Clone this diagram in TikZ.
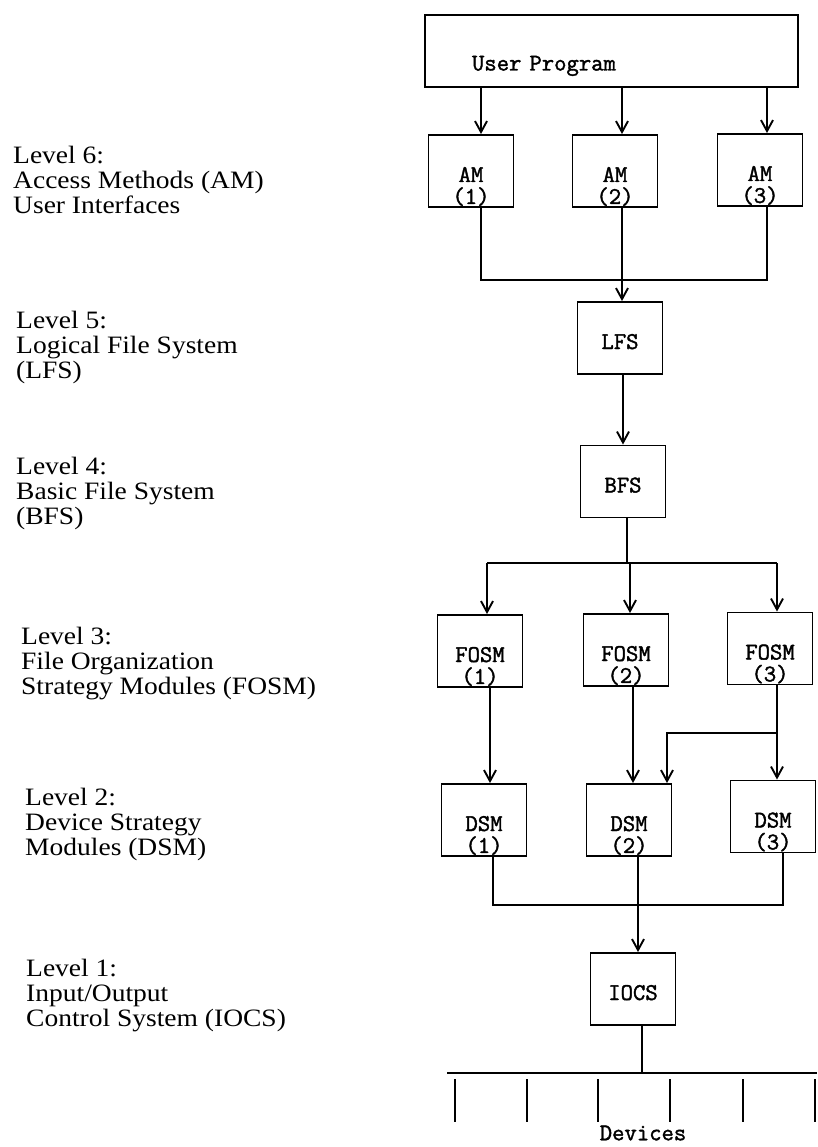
\documentclass[tikz,border=0pt]{standalone}
\usepackage{fontspec}
\newfontfamily\lvlfont{Liberation Serif}[FakeStretch=1.1]
\newfontfamily\boxfont{Latin Modern Mono}[FakeBold=1.6]
\usetikzlibrary{arrows.meta, positioning}

\begin{document}
\begin{tikzpicture}[
    x=1pt, y=-1pt,
    box/.style   = {rectangle, draw=black, line width=1.9pt, inner xsep=0pt, inner ysep=0pt,
                    minimum width=85pt, text height=47pt, text depth=25pt,
                    font=\boxfont\fontsize{24}{25}\selectfont},
    tag/.style   = {inner sep=0pt, font=\boxfont\fontsize{24}{25}\selectfont},
    num/.style   = {tag, anchor=base},
    level/.style = {anchor=north west, align=left, inner sep=0pt,
                    font=\lvlfont\fontsize{25}{25}\selectfont},
    line/.style  = {line width=1.9pt},
    arr/.style   = {line, -{Straight Barb[length=11pt,width=12pt]}},
]
\useasboundingbox (0,0) rectangle (817,1147);

% ---- level labels on the left ----
\node[level] (lv6) at (13,146)  {Level 6:\\Access Methods (AM)\\User Interfaces};
\node[level] (lv5) at (16,311)  {Level 5:\\Logical File System\\(LFS)};
\node[level] (lv4) at (16,457)  {Level 4:\\Basic File System\\(BFS)};
\node[level] (lv3) at (21,627)  {Level 3:\\File Organization\\Strategy Modules (FOSM)};
\node[level] (lv2) at (25,788)  {Level 2:\\Device Strategy\\Modules (DSM)};
\node[level] (lv1) at (26,959)  {Level 1:\\Input/Output\\Control System (IOCS)};

% ---- user program ----
\node[box, minimum width=373pt, text width=279pt, inner xsep=47pt, align=left,
      text height=55.5pt, text depth=16.5pt] (user) at (611.5,51) {User Program};

% ---- module boxes ----
\node[box] (am1)   at (471,171)   {AM};
\node[box] (am2)   at (615,171)   {AM};
\node[box] (am3)   at (760,170)   {AM};
\node[box] (lfs)   at (620,338)   {LFS};
\node[box] (bfs)   at (623,481.5) {BFS};
\node[box] (fosm1) at (480,651)   {FOSM};
\node[box] (fosm2) at (626,650)   {FOSM};
\node[box] (fosm3) at (770,648.5) {FOSM};
\node[box] (dsm1)  at (484,820)   {DSM};
\node[box] (dsm2)  at (629,820)   {DSM};
\node[box] (dsm3)  at (773,816.5) {DSM};
\node[box] (iocs)  at (633,989)   {IOCS};

% numbers sit on the bottom line
\node[num] (am1n)   at ([yshift=4pt]am1.south)   {(1)};
\node[num] (am2n)   at ([yshift=4pt]am2.south)   {(2)};
\node[num] (am3n)   at ([yshift=4pt]am3.south)   {(3)};
\node[num] (fosm1n) at ([yshift=4pt]fosm1.south) {(1)};
\node[num] (fosm2n) at ([yshift=4pt]fosm2.south) {(2)};
\node[num] (fosm3n) at ([yshift=4pt]fosm3.south) {(3)};
\node[num] (dsm1n)  at ([yshift=4pt]dsm1.south)  {(1)};
\node[num] (dsm2n)  at ([yshift=4pt]dsm2.south)  {(2)};
\node[num] (dsm3n)  at ([yshift=4pt]dsm3.south)  {(3)};

% ---- junction points ----
\coordinate (j6)   at (622,280);
\coordinate (j4)   at (627,563);
\coordinate (j3)   at (777,733);
\coordinate (j2)   at (638,905);
\coordinate (j1)   at (642,1073);
\coordinate (busl) at (447,1073);
\coordinate (busr) at (817,1073);

% ---- user program -> access methods -> LFS ----
\foreach \n/\s in {am1/10, am2/7, am3/7}
  \draw[arr] ([xshift=\s pt]\n.north |- user.south) -- ([xshift=\s pt]\n.north);
\draw[line] ([xshift=10pt]am1.south) |- (j6) -| ([xshift=7pt]am3.south);
\draw[line] (am2.south -| j6) -- (j6);
\draw[arr]  (j6) -- (lfs.north -| j6);

% ---- LFS -> BFS -> FOSM ----
\draw[arr]  (lfs.south -| bfs) -- (bfs.north);
\draw[line] (bfs.south -| j4) -- (j4);
\draw[line] ([xshift=7pt]fosm1.north |- j4) -- ([xshift=7pt]fosm3.north |- j4);
\foreach \n/\s in {fosm1/7, fosm2/4, fosm3/7}
  \draw[arr] ([xshift=\s pt]\n.north |- j4) -- ([xshift=\s pt]\n.north);

% ---- FOSM -> DSM ----
\draw[arr]  ([xshift=6pt]dsm1.north |- fosm1.south) -- ([xshift=6pt]dsm1.north);
\draw[arr]  ([xshift=4pt]dsm2.north |- fosm2.south) -- ([xshift=4pt]dsm2.north);
\draw[line] (fosm3.south -| j3) -- (j3);
\draw[arr]  (j3) -- (dsm3.north -| j3);
\draw[arr]  (j3) -| ([xshift=38pt]dsm2.north);

% ---- DSM -> IOCS -> devices ----
\draw[line] ([xshift=9pt]dsm1.south) |- (j2) -| ([xshift=10pt]dsm3.south);
\draw[line] (dsm2.south -| j2) -- (j2);
\draw[arr]  (j2) -- (iocs.north -| j2);
\draw[line] (iocs.south -| j1) -- (j1);
\draw[line] (busl) -- (busr);
\foreach \x in {455,527,598,670,743,815}
  \draw[line] (\x,1079) -- (\x,1122);
\node[tag] (dev) at (643,1133) {Devices};

\end{tikzpicture}
\end{document}
